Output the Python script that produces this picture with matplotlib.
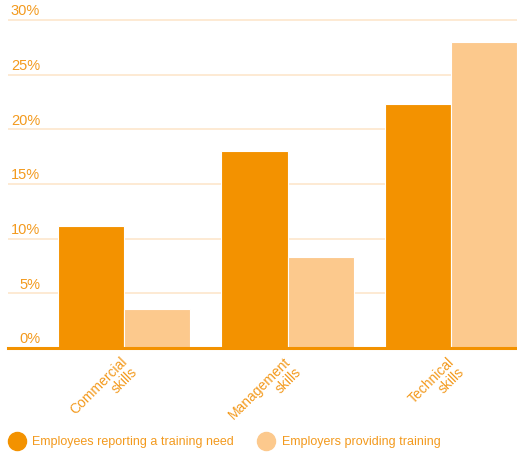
import matplotlib
matplotlib.use("Agg")
import matplotlib.pyplot as plt
from matplotlib.lines import Line2D
import numpy as np

# data
categories = ["Commercial\nskills", "Management\nskills", "Technical\nskills"]
training_need = [11.2, 18.0, 22.3]      # employees reporting a training need (%)
providing_training = [3.6, 8.3, 28.0]   # employers providing training (%)
y_ticks = [0, 5, 10, 15, 20, 25, 30]
series_names = ["Employees reporting a training need", "Employers providing training"]

DARK = "#f39200"
LIGHT = "#fcc98d"
GRID = "#fde6cc"
TEXT = "#f39a1e"

plt.rcParams["font.family"] = ["Liberation Sans", "DejaVu Sans"]

fig = plt.figure(figsize=(5.17, 4.54), dpi=100)
ax = fig.add_axes([8 / 517, 106 / 454, 509 / 517, (348 - 9) / 454])

x = np.arange(len(categories))
w = 0.404
ax.bar(x - w / 2, training_need, w, color=DARK, edgecolor="white", lw=0.8, zorder=2)
ax.bar(x + w / 2, providing_training, w, color=LIGHT, edgecolor="white", lw=0.8, zorder=2)

for v in y_ticks[1:]:
    ax.axhline(v, color=GRID, lw=1.2, zorder=1)
for v in y_ticks:
    ax.text(0.063, v + 0.15, f"{v}%", transform=ax.get_yaxis_transform(),
            ha="right", va="bottom", color=TEXT, fontsize=10.5)
ax.axhline(0, color=DARK, lw=2.2, zorder=3, clip_on=False)

for xi, lab in zip(x, categories):
    ax.text(xi - 0.025, -0.6, lab, rotation=45, rotation_mode="anchor",
            ha="right", va="top", multialignment="right",
            color=TEXT, fontsize=10, clip_on=False, linespacing=1.1)

ax.set_xlim(-0.71, 2.404)
ax.set_ylim(0, 31)
ax.axis("off")

handles = [Line2D([], [], ls="none", marker="o", ms=13, color=c, mec=c) for c in (DARK, LIGHT)]
fig.legend(handles, series_names, loc="center left", bbox_to_anchor=(4 / 517, 12 / 454),
           ncol=2, frameon=False, fontsize=9, labelcolor=TEXT,
           handletextpad=0.65, columnspacing=2.0, handlelength=1.2, borderaxespad=0)

fig.savefig("out.png", dpi=100)
